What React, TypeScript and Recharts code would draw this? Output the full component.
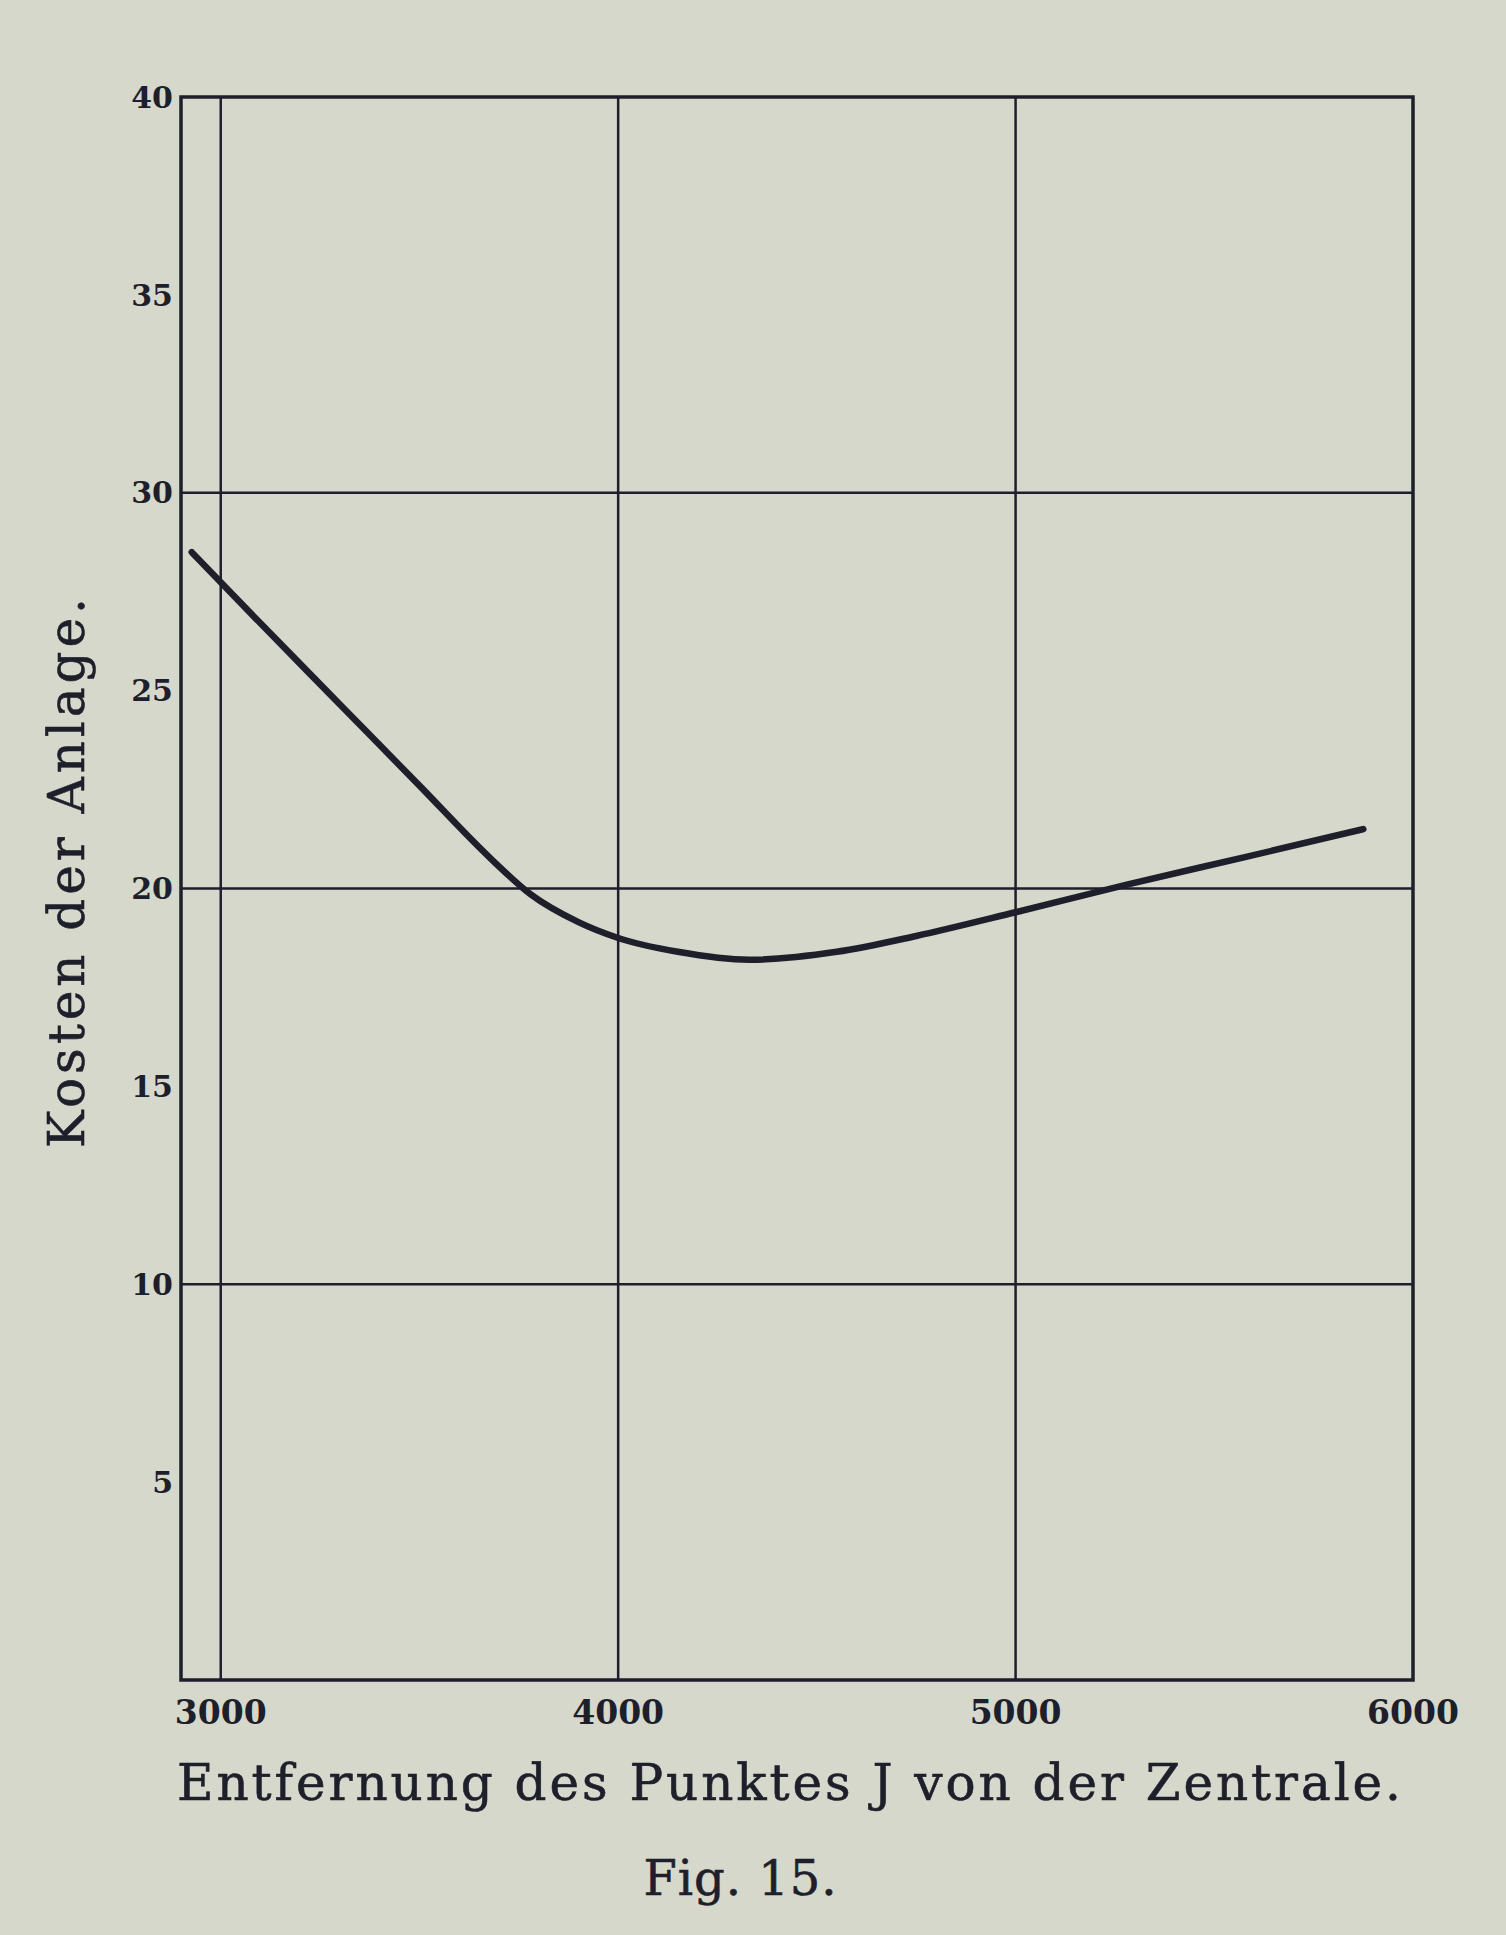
import { LineChart, Line, XAxis, YAxis, ReferenceLine, ReferenceArea, Label } from "recharts";

// Entfernung des Punktes J (x) und Kosten der Anlage (y)
const distance = [2927, 3100, 3300, 3500, 3680, 3780, 3900, 4000, 4150, 4330, 4550, 4750, 5000, 5280, 5580, 5875];
const cost = [28.5, 26.7, 24.65, 22.6, 20.75, 19.85, 19.15, 18.75, 18.4, 18.2, 18.4, 18.8, 19.4, 20.1, 20.8, 21.5];

const xTicks = [3000, 4000, 5000, 6000];
const yTicks = [5, 10, 15, 20, 25, 30, 35, 40];
const xGrid = [3000, 4000, 5000];
const yGrid = [10, 20, 30];

const xLabel = "Entfernung des Punktes J von der Zentrale.";
const yLabel = "Kosten der Anlage.";
const caption = "Fig. 15.";

const BG = "#d6d8cc";
const INK = "#1e1f2b";
const FONT = "'DejaVu Serif', 'Liberation Serif', serif";

const xTickStyle = { fill: INK, fontSize: 33, fontFamily: FONT, fontWeight: 700 };
const yTickStyle = { fill: INK, fontSize: 30, fontFamily: FONT, fontWeight: 700 };

export default function App() {
  const data = distance.map((d, i) => ({ distance: d, cost: cost[i] }));

  return (
    <div style={{ position: "absolute", left: 0, top: 0, width: 1506, height: 1935, background: BG }}>
      <LineChart width={1506} height={1935} data={data} margin={{ top: 97, right: 93, bottom: 195, left: 121 }}>
        <XAxis
          type="number"
          dataKey="distance"
          domain={[2900, 6000]}
          ticks={xTicks}
          interval={0}
          allowDataOverflow
          axisLine={false}
          tickLine={false}
          tickMargin={15}
          height={60}
          tick={xTickStyle}
        >
          <Label
            content={() => (
              <g>
                <text
                  x={789}
                  y={1800}
                  textAnchor="middle"
                  textLength={1224}
                  lengthAdjust="spacing"
                  fill={INK}
                  stroke={INK}
                  strokeWidth={0.6}
                  fontSize={50}
                  fontFamily={FONT}
                >
                  {xLabel}
                </text>
                <text
                  x={740}
                  y={1895}
                  textAnchor="middle"
                  textLength={193}
                  lengthAdjust="spacing"
                  fill={INK}
                  stroke={INK}
                  strokeWidth={0.6}
                  fontSize={48}
                  fontFamily={FONT}
                >
                  {caption}
                </text>
              </g>
            )}
          />
        </XAxis>
        <YAxis
          type="number"
          domain={[0, 40]}
          ticks={yTicks}
          interval={0}
          width={60}
          axisLine={false}
          tickLine={false}
          tick={yTickStyle}
        >
          <Label
            content={() => (
              <text
                x={84}
                y={873}
                transform="rotate(-90, 84, 873)"
                textAnchor="middle"
                textLength={550}
                lengthAdjust="spacing"
                fill={INK}
                stroke={INK}
                strokeWidth={0.6}
                fontSize={50}
                fontFamily={FONT}
              >
                {yLabel}
              </text>
            )}
          />
        </YAxis>
        {yGrid.map((v) => (
          <ReferenceLine key={"h" + v} y={v} stroke={INK} strokeWidth={2.5} />
        ))}
        {xGrid.map((v) => (
          <ReferenceLine key={"v" + v} x={v} stroke={INK} strokeWidth={2.5} />
        ))}
        <ReferenceArea x1={2900} x2={6000} y1={0} y2={40} fill="none" stroke={INK} strokeWidth={3.5} />
        <Line
          type="monotone"
          dataKey="cost"
          stroke={INK}
          strokeWidth={6.5}
          strokeLinecap="round"
          dot={false}
          isAnimationActive={false}
        />
      </LineChart>
    </div>
  );
}
